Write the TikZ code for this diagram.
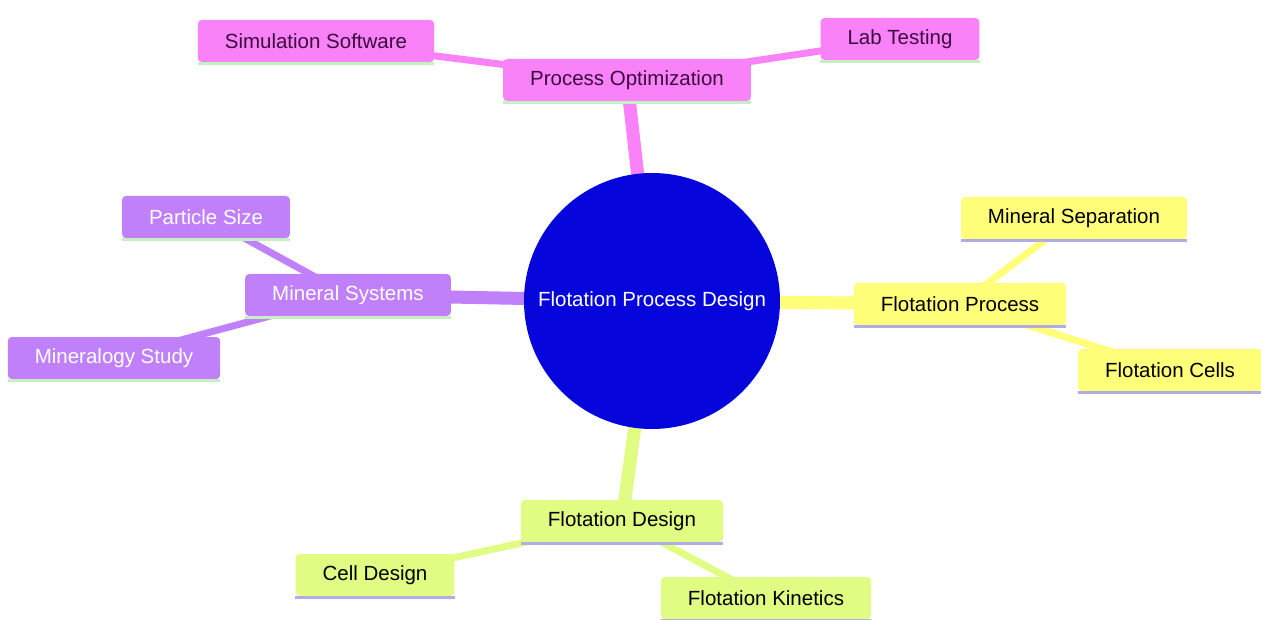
\documentclass[tikz,border=0pt]{standalone}
\usepackage{fontspec}
\setmainfont{Liberation Sans}
\usepackage{xcolor}
\usetikzlibrary{positioning}

\definecolor{rootblue}{RGB}{5,5,220}
\definecolor{optpink}{RGB}{250,130,248}
\definecolor{minpurple}{RGB}{192,128,250}
\definecolor{procyellow}{RGB}{255,255,122}
\definecolor{desgreen}{RGB}{224,252,130}
\definecolor{lightgreen}{RGB}{196,240,196}
\definecolor{lavender}{RGB}{178,172,230}
\definecolor{pinktext}{RGB}{60,10,62}

\pgfdeclarelayer{background}
\pgfsetlayers{background,main}

\tikzset{
  topic/.style={rectangle, rounded corners=4pt, minimum height=42pt, inner xsep=27pt,
    font=\fontsize{20.5}{24}\selectfont},
  underline/.style={append after command={
    ([yshift=-1.5pt]\tikzlastnode.south west) edge[draw=#1, line width=3pt]
    ([yshift=-1.5pt]\tikzlastnode.south east)}},
  optnode/.style={topic, fill=optpink, text=pinktext, underline=lightgreen},
  minnode/.style={topic, fill=minpurple, text=white, underline=lightgreen},
  procnode/.style={topic, fill=procyellow, text=black, underline=lavender},
  desnode/.style={topic, fill=desgreen, text=black, underline=lavender},
  trunk/.style={line width=13pt},
  twig/.style={line width=7pt}
}

\begin{document}
\begin{tikzpicture}[x=1pt, y=-1pt]
    \useasboundingbox (0,0) rectangle (1261,620);

    % centre
    \node[circle, fill=rootblue, text=white, minimum size=256pt, inner sep=0pt,
      font=\fontsize{20.5}{24}\selectfont] at (652, 301) (root) {Flotation Process Design};

    % process optimization
    \node[optnode] at (627, 80) (opt) {Process Optimization};
    \node[optnode] at (316, 41) (sim) {Simulation Software};
    \node[optnode] at (900, 39) (lab) {Lab Testing};

    % mineral systems
    \node[minnode] at (348, 295) (minsys) {Mineral Systems};
    \node[minnode] at (206, 217) (particle) {Particle Size};
    \node[minnode] at (114, 358) (mineralogy) {Mineralogy Study};

    % flotation process
    \node[procnode] at (960, 304) (proc) {Flotation Process};
    \node[procnode] at (1074, 218) (separation) {Mineral Separation};
    \node[procnode] at (1170, 370) (cells) {Flotation Cells};

    % flotation design
    \node[desnode] at (622, 521) (design) {Flotation Design};
    \node[desnode] at (375, 575) (celldesign) {Cell Design};
    \node[desnode] at (766, 598) (kinetics) {Flotation Kinetics};

    \begin{pgfonlayer}{background}
      \fill[white] (0,0) rectangle (1261,620);

      \draw[optpink, trunk] (root.center) -- (opt.center);
      \draw[optpink, twig] (opt.center) -- (sim.center);
      \draw[optpink, twig] (opt.center) -- (lab.center);

      \draw[minpurple, trunk] (root.center) -- (minsys.center);
      \draw[minpurple, twig] (minsys.center) -- (particle.center);
      \draw[minpurple, twig] (minsys.center) -- (mineralogy.center);

      \draw[procyellow, trunk] (root.center) -- (proc.center);
      \draw[procyellow, twig] (proc.center) -- (separation.center);
      \draw[procyellow, twig] (proc.center) -- (cells.center);

      \draw[desgreen, trunk] (root.center) -- (design.center);
      \draw[desgreen, twig] (design.center) -- (celldesign.center);
      \draw[desgreen, twig] (design.center) -- (kinetics.center);
    \end{pgfonlayer}
  \end{tikzpicture}
\end{document}
